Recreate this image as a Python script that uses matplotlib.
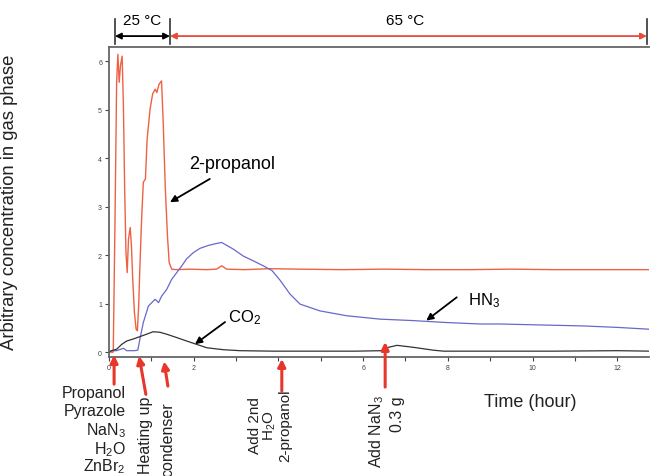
import numpy as np
import matplotlib
matplotlib.use("Agg")
import matplotlib.pyplot as plt

plt.rcParams["font.family"] = ["Liberation Sans", "DejaVu Sans"]
plt.rcParams["mathtext.fontset"] = "custom"
plt.rcParams["mathtext.rm"] = "Liberation Sans"
plt.rcParams["mathtext.it"] = "Liberation Sans:italic"

# 2-propanol trace (hour, arbitrary units)
propanol_t = [0.0, 0.10, 0.14, 0.18, 0.21, 0.24, 0.27, 0.31, 0.34, 0.37, 0.40, 0.43,
              0.46, 0.50, 0.53, 0.56, 0.60, 0.64, 0.67, 0.70, 0.73, 0.77, 0.81, 0.86,
              0.90, 0.97, 1.03, 1.09, 1.13, 1.18, 1.24, 1.28, 1.33, 1.38, 1.42, 1.48,
              1.60, 1.91, 2.30, 2.54, 2.66, 2.78, 3.2, 3.8, 4.5, 5.5, 6.5, 7.5, 8.5,
              9.5, 10.5, 11.5, 12.8]
propanol_v = [0.0, 0.0, 2.60, 5.56, 6.14, 5.56, 5.90, 6.10, 5.08, 3.36, 2.06, 1.64,
              2.33, 2.57, 2.19, 1.50, 0.82, 0.47, 0.44, 0.95, 1.78, 2.74, 3.50, 3.57,
              4.39, 5.01, 5.32, 5.42, 5.35, 5.52, 5.59, 4.73, 3.36, 2.40, 1.85, 1.71,
              1.70, 1.71, 1.70, 1.71, 1.78, 1.71, 1.70, 1.72, 1.71, 1.70, 1.71, 1.70,
              1.70, 1.71, 1.70, 1.70, 1.70]

# HN3 trace
hn3_t = [0.0, 0.06, 0.18, 0.34, 0.42, 0.60, 0.68, 0.73, 0.81, 0.93, 1.01, 1.09,
         1.17, 1.24, 1.36, 1.48, 1.60, 1.72, 1.83, 1.99, 2.15, 2.35, 2.54, 2.66,
         2.78, 2.94, 3.17, 3.41, 3.64, 3.85, 4.05, 4.27, 4.51, 4.98, 5.61, 6.40,
         7.18, 7.97, 8.76, 9.23, 10.2, 11.2, 12.0, 12.8]
hn3_v = [0.0, 0.03, 0.03, 0.08, 0.03, 0.03, 0.04, 0.27, 0.61, 0.95, 1.02, 1.09,
         1.02, 1.15, 1.29, 1.50, 1.64, 1.78, 1.92, 2.05, 2.14, 2.20, 2.24, 2.26,
         2.20, 2.12, 1.98, 1.88, 1.78, 1.68, 1.47, 1.20, 0.99, 0.85, 0.75, 0.68,
         0.65, 0.61, 0.58, 0.58, 0.56, 0.54, 0.51, 0.47]

# CO2 trace
co2_t = [0.0, 0.06, 0.18, 0.30, 0.42, 0.57, 0.73, 0.89, 1.04, 1.20, 1.36, 1.60,
         1.83, 2.07, 2.31, 2.70, 3.09, 3.88, 4.82, 5.8, 6.45, 6.60, 6.80, 7.18,
         7.66, 7.90, 9.0, 10.5, 12.0, 12.8]
co2_v = [0.0, 0.03, 0.06, 0.16, 0.23, 0.27, 0.32, 0.37, 0.42, 0.41, 0.37, 0.30,
         0.23, 0.16, 0.09, 0.05, 0.03, 0.02, 0.02, 0.02, 0.03, 0.10, 0.14, 0.10,
         0.04, 0.02, 0.02, 0.02, 0.03, 0.02]

# event times marked by red arrows below the axis
events = [0.12, 0.71, 1.30, 4.08, 6.52]

red = "#EE6244"
blue = "#6868CC"
black = "#333333"
arrow_red = "#E8362A"

fig = plt.figure(figsize=(6.5, 4.77), dpi=100)
ax = fig.add_axes([0.1677, 0.2495, 0.8308, 0.65])

ax.plot(propanol_t, propanol_v, color=red, lw=1.0)
ax.plot(hn3_t, hn3_v, color=blue, lw=0.9)
ax.plot(co2_t, co2_v, color=black, lw=0.9)

ax.set_xlim(0, 12.75)
ax.set_ylim(-0.1, 6.29)
ax.set_xticks(range(0, 13, 2))
ax.set_xticks(range(1, 13, 2), minor=True)
ax.set_yticks(range(0, 7))
ax.tick_params(axis="both", which="both", direction="out", length=3, width=0.8,
               labelsize=5, colors="#444444", pad=2)
for side in ["left", "bottom", "top"]:
    ax.spines[side].set_color("#666666")
    ax.spines[side].set_linewidth(1.3)
ax.spines["right"].set_visible(False)

ax.set_ylabel("Arbitrary concentration in gas phase", fontsize=13.3, color="#222222")
ax.yaxis.set_label_coords(-0.169, 0.503)
ax.text(0.78, -0.145, "Time (hour)", transform=ax.transAxes, fontsize=13,
        ha="center", va="center", color="#222222")

# curve labels with pointer arrows
black_arrow = dict(arrowstyle="-|>", color="black", lw=1.3, shrinkA=0, shrinkB=0,
                   mutation_scale=10)
ax.text(2.9, 3.88, "2-propanol", fontsize=13, ha="center", va="center")
ax.annotate("", xy=(1.44, 3.09), xytext=(2.38, 3.57), arrowprops=black_arrow)
ax.text(3.2, 0.74, "CO$_2$", fontsize=12, ha="center", va="center")
ax.annotate("", xy=(2.03, 0.165), xytext=(2.74, 0.62), arrowprops=black_arrow)
ax.text(8.85, 1.09, "HN$_3$", fontsize=12, ha="center", va="center")
ax.annotate("", xy=(7.49, 0.65), xytext=(8.21, 1.13), arrowprops=black_arrow)

# event arrows below the axis
red_arrow = dict(arrowstyle="-|>", color=arrow_red, lw=2.2, shrinkA=0, shrinkB=0,
                 mutation_scale=11)
ax.annotate("", xy=(events[0], -0.06), xytext=(events[0], -0.66),
            arrowprops=red_arrow, annotation_clip=False)
ax.annotate("", xy=(events[1], -0.08), xytext=(0.87, -0.87),
            arrowprops=red_arrow, annotation_clip=False)
ax.annotate("", xy=(events[2], -0.19), xytext=(1.39, -0.70),
            arrowprops=red_arrow, annotation_clip=False)
ax.annotate("", xy=(events[3], -0.14), xytext=(events[3], -0.80),
            arrowprops=red_arrow, annotation_clip=False)
ax.annotate("", xy=(events[4], 0.21), xytext=(events[4], -0.72),
            arrowprops=red_arrow, annotation_clip=False)

start_lines = ["Propanol", "Pyrazole", "NaN$_3$", "H$_2$O", "ZnBr$_2$"]
start_y = [-0.83, -1.21, -1.60, -1.98, -2.33]
for line, yy in zip(start_lines, start_y):
    ax.text(0.4, yy, line, fontsize=11.5, ha="right", va="center", clip_on=False,
            color="#222222")

ax.text(0.87, -0.89, "Heating up", fontsize=11.5, rotation=90, ha="center",
        va="top", clip_on=False, color="#222222")
ax.text(1.39, -1.01, "condenser", fontsize=11.5, rotation=90, ha="center",
        va="top", clip_on=False, color="#222222")

add_lines = ["Add 2nd", "H$_2$O", "2-propanol"]
add_x = [3.44, 3.80, 4.16]
for line, xx in zip(add_lines, add_x):
    ax.text(xx, -1.50, line, fontsize=11, rotation=90, ha="center", va="center",
            clip_on=False, color="#222222")

ax.text(6.33, -0.86, "Add NaN$_3$", fontsize=11.5, rotation=90, ha="center",
        va="top", clip_on=False, color="#222222")
ax.text(6.80, -0.89, "0.3 g", fontsize=11.5, rotation=90, ha="center",
        va="top", clip_on=False, color="#222222")

# temperature ranges above the plot
tr = ax.get_xaxis_transform()
for xx in [0.14, 1.44, 12.70]:
    ax.plot([xx, xx], [1.01, 1.09], transform=tr, color="#333333", lw=1.2,
            clip_on=False)
ax.annotate("", xy=(0.14, 1.035), xytext=(1.44, 1.035), xycoords=tr, textcoords=tr,
            arrowprops=dict(arrowstyle="<|-|>", color="black", lw=1.3,
                            shrinkA=0, shrinkB=0, mutation_scale=9))
ax.annotate("", xy=(1.44, 1.035), xytext=(12.70, 1.035), xycoords=tr, textcoords=tr,
            arrowprops=dict(arrowstyle="<|-|>", color="#E84B3A", lw=1.3,
                            shrinkA=0, shrinkB=0, mutation_scale=9))
ax.text(0.78, 1.087, "25 °C", transform=tr, fontsize=11, ha="center", va="center")
ax.text(6.99, 1.087, "65 °C", transform=tr, fontsize=11, ha="center", va="center")

fig.savefig("out.png", dpi=100)
